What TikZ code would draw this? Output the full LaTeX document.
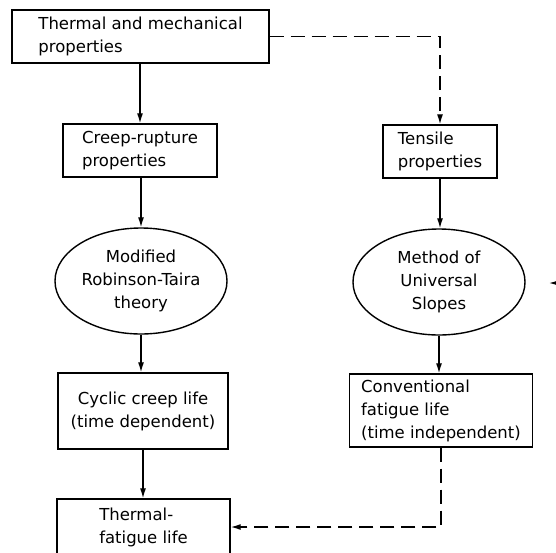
\documentclass[tikz,border=0pt]{standalone}
\usepackage{fontspec}
\setmainfont{DejaVu Sans}
\usetikzlibrary{arrows.meta,shapes.geometric}
\begin{document}
\begin{tikzpicture}[x=1pt,y=-1pt,
    box/.style={draw,line width=1.4pt,rectangle,inner sep=0pt,font=\fontsize{16.5}{23}\selectfont},
    oval/.style={draw,line width=1.4pt,ellipse,align=center,inner sep=0pt,minimum width=172pt,minimum height=106pt,font=\fontsize{16.5}{23}\selectfont},
    link/.style={line width=1.3pt,-{Latex[length=10pt,width=6pt]}},
    dlink/.style={link,dash pattern=on 14pt off 7pt}]
    \path[use as bounding box,clip](0,0)rectangle(556,552);
    % left column
    \node[box,align=left,minimum width=257pt,minimum height=53pt](props)at(140.5,36.5){Thermal and mechanical\\properties};
    \node[box,align=left,minimum width=154pt,minimum height=53pt](creep)at(140,150.5){Creep-rupture\\properties};
    \node[oval](rt)at(141,281){Modified\\Robinson-Taira\\theory};
    \node[box,align=center,minimum width=170pt,minimum height=76pt](cyclic)at(143,411){Cyclic creep life\\(time dependent)};
    \node[box,align=left,minimum width=173pt,minimum height=56pt](tflife)at(143.5,527){Thermal-\\fatigue life};
    % right column
    \node[box,align=left,minimum width=114pt,minimum height=53pt](tensile)at(440,151.5){Tensile\\properties};
    \node[oval](mus)at(439,282){Method of\\Universal\\Slopes};
    \node[box,align=left,minimum width=183pt,minimum height=73pt](conv)at(441,410.5){Conventional\\fatigue life\\(time independent)};
    \coordinate(outside)at(562,283);
    % connectors
    \draw[link](creep.north|-props.south)--(creep.north);
    \draw[link](rt.north|-creep.south)--(rt.north);
    \draw[link](rt.south)--(rt.south|-cyclic.north);
    \draw[link](cyclic.south)--(cyclic.south|-tflife.north);
    \draw[dlink](props.east)-|(tensile.north);
    \draw[link](tensile.south)--(tensile.south|-mus.north);
    \draw[link](mus.south)--(mus.south|-conv.north);
    \draw[dlink](conv.south)|-(tflife.east);
    \draw[link](outside)--(549,283);
\end{tikzpicture}
\end{document}
